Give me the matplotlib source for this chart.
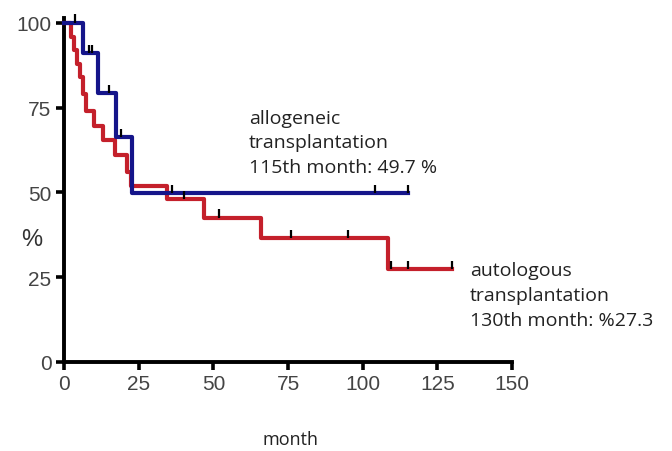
import matplotlib.pyplot as plt
import numpy as np

# Kaplan-Meier steps (month, survival %)
allo_t = [0, 6.5, 11.5, 17.3, 22.7, 115]
allo_s = [100, 91, 79.3, 66.3, 49.7, 49.7]
allo_cens_t = [3.8, 8.5, 9.5, 15, 19, 36, 104, 115]

auto_t = [0, 2.5, 3.5, 4.5, 5.5, 6.5, 7.5, 10, 13, 17, 21.2, 22.5, 34.5, 47, 66, 108.5, 130]
auto_s = [100, 96, 92, 88, 84, 79, 74, 69.5, 65.5, 61, 56, 52, 48, 42.5, 36.5, 27.3, 27.3]
auto_cens_t = [40, 52, 76, 95, 109.5, 115, 130]

xticks = [0, 25, 50, 75, 100, 125, 150]
yticks = [0, 25, 50, 75, 100]


def level_at(t, times, surv):
    idx = np.searchsorted(times, t, side='right') - 1
    return np.asarray(surv)[idx]


fig = plt.figure(figsize=(6.72, 4.52), dpi=100)
ax = fig.add_axes([0.0952, 0.197, 0.667, 0.75])

red = '#c4202b'
blue = '#15158a'
ax.step(auto_t, auto_s, where='post', color=red, lw=3, clip_on=False, zorder=3)
ax.step(allo_t, allo_s, where='post', color=blue, lw=3, clip_on=False, zorder=4)

# censor marks
ct = np.array(auto_cens_t)
ax.vlines(ct, level_at(ct, auto_t, auto_s), level_at(ct, auto_t, auto_s) + 2.5,
          color='black', lw=1.6, zorder=5, clip_on=False)
ct = np.array(allo_cens_t)
ax.vlines(ct, level_at(ct, allo_t, allo_s), level_at(ct, allo_t, allo_s) + 2.5,
          color='black', lw=1.6, zorder=5, clip_on=False)

ax.set_xlim(0, 150)
ax.set_ylim(0, 100)
ax.set_xticks(xticks)
ax.set_yticks(yticks)
for s in ['top', 'right']:
    ax.spines[s].set_visible(False)
for s in ['left', 'bottom']:
    ax.spines[s].set_linewidth(2.8)
ax.spines['left'].set_bounds(0, 101.5)
ax.tick_params(width=2.6, length=6, pad=3, labelsize=15, colors='black', labelcolor='#444444')
for lab in ax.get_xticklabels() + ax.get_yticklabels():
    lab.set_family(['Liberation Sans Narrow', 'Liberation Sans', 'DejaVu Sans'])

fig.text(32 / 672, 1 - 240 / 452, '%', fontsize=17, ha='center', va='center', color='#333333',
         family=['Liberation Sans', 'DejaVu Sans'])
fig.text(291 / 672, 1 - 440 / 452, 'month', fontsize=13, ha='center', va='center', color='#222222',
         family=['Open Sans', 'DejaVu Sans'])

fig.text(249 / 672, 1 - 110 / 452, 'allogeneic\ntransplantation\n115th month: 49.7 %',
         fontsize=14, ha='left', va='top', linespacing=1.45, color='#222222',
         family=['Open Sans', 'DejaVu Sans'])
fig.text(470 / 672, 1 - 262 / 452, 'autologous\ntransplantation\n130th month: %27.3',
         fontsize=14, ha='left', va='top', linespacing=1.5, color='#222222',
         family=['Open Sans', 'DejaVu Sans'])

fig.savefig('out.png', dpi=100)
